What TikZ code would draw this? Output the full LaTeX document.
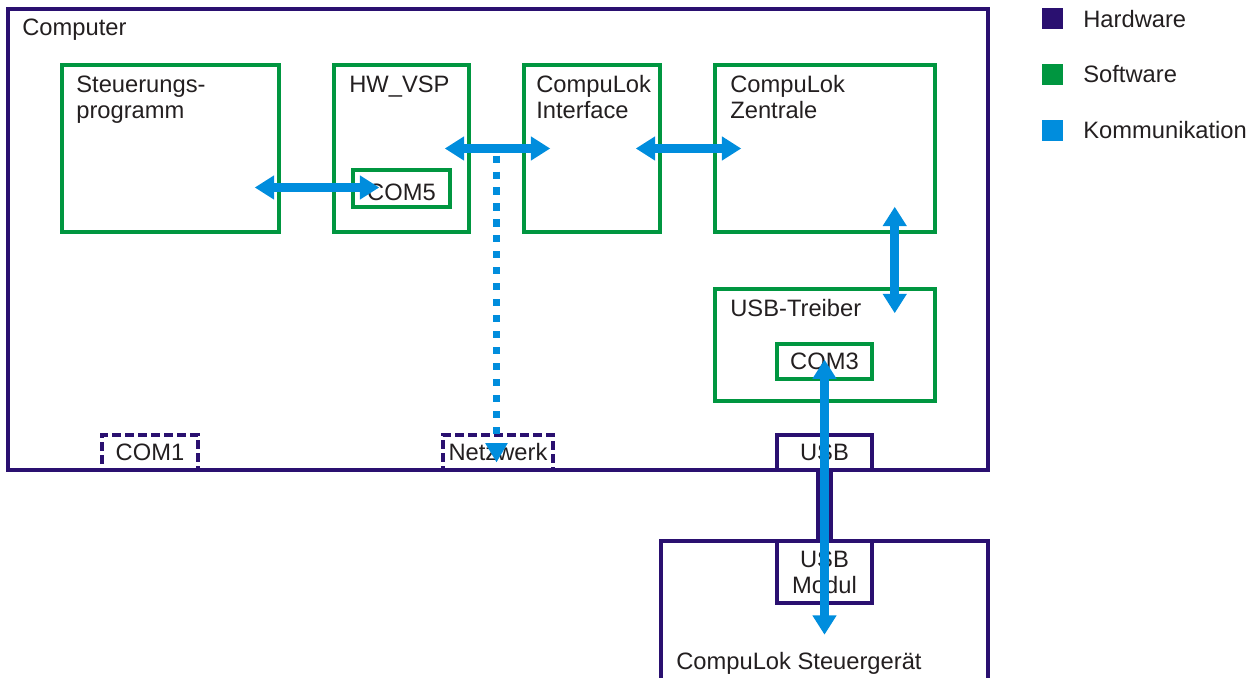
\documentclass[tikz,border=0pt]{standalone}
\usepackage{fontspec}
\setmainfont{Liberation Sans}
\usetikzlibrary{arrows.meta,calc}

\definecolor{hwnavy}{RGB}{42,16,112}
\definecolor{swgreen}{RGB}{0,150,64}
\definecolor{commblue}{RGB}{0,141,221}
\definecolor{textgray}{RGB}{35,31,32}

\tikzset{
  labelfont/.style={text=textgray, font=\fontsize{13.5}{14.8}\selectfont},
  txt/.style={labelfont, inner sep=0pt, anchor=base west},
  hwbox/.style={labelfont, draw=hwnavy, line width=2.3pt, inner sep=0pt, align=center},
  swbox/.style={labelfont, draw=swgreen, line width=2pt, inner sep=0pt},
  portbox/.style={hwbox, line width=2.4pt, dash pattern=on 5pt off 2.4pt},
  comm/.style={draw=commblue, line width=5pt, >={Triangle[length=11pt,width=13pt]}, <->},
  commdots/.style={draw=commblue, line width=4.5pt, dash pattern=on 4pt off 5.1pt,
    dash phase=5.1pt, >={Triangle[length=11pt,width=12pt]}, ->},
  legendbox/.style={minimum size=0.42cm, inner sep=0pt}
}

\begin{document}
\begin{tikzpicture}[x=0.02cm, y=-0.02cm]
    \useasboundingbox (0,0) rectangle (1259,678);

    % computer and its parts
    \node [hwbox, minimum width=19.6cm, minimum height=9.22cm] (computer) at (498,239.5) {};
    \node [txt] at (22,36) {Computer};

    \node [swbox, minimum width=4.34cm, minimum height=3.34cm] (steuer) at (170.5,148.5) {};
    \node [txt] at (76,93) {Steuerungs-};
    \node [txt] at (76,119) {programm};

    \node [swbox, minimum width=2.7cm, minimum height=3.34cm] (hwvsp) at (401.5,148.5) {};
    \node [txt] at (349,93) {HW\_VSP};
    \node [swbox, minimum width=1.94cm, minimum height=0.74cm] (com5) at (401.5,188.5) {};
    \node [labelfont, inner sep=0pt, anchor=base] at (com5.center |- 0,201) {COM5};

    \node [swbox, minimum width=2.72cm, minimum height=3.34cm] (iface) at (592,148.5) {};
    \node [txt] at (536,93) {CompuLok};
    \node [txt] at (536,119) {Interface};

    \node [swbox, minimum width=4.4cm, minimum height=3.34cm] (zentrale) at (825,148.5) {};
    \node [txt] at (730,93) {CompuLok};
    \node [txt] at (730,119) {Zentrale};

    \node [swbox, minimum width=4.4cm, minimum height=2.24cm] (treiber) at (825,345) {};
    \node [txt] at (730,317) {USB-Treiber};
    \node [swbox, minimum width=1.9cm, minimum height=0.7cm] (com3) at (824.5,361.5) {COM3};

    % ports
    \node [portbox, minimum width=1.92cm, minimum height=0.7cm] (com1) at (150,452.5) {COM1};
    \node [portbox, minimum width=2.2cm, minimum height=0.7cm] (netz) at (498,452.5) {Netzwerk};
    \node [hwbox, line width=2pt, minimum width=1.9cm, minimum height=0.7cm] (usb) at (824.5,452.5) {USB};

    % Steuergeraet
    \draw [draw=hwnavy, line width=2.3pt] (661,690) -- (661,541) -- (988,541) -- (988,690);
    \node [txt] at (676,670) {CompuLok Steuergerät};
    \node [hwbox, line width=2pt, minimum width=1.9cm, minimum height=1.24cm] (modul) at (824.5,572) {USB\\Modul};
    \draw [draw=hwnavy, line width=10pt] (usb.south) -- (modul.north);

    % Kommunikation
    \coordinate (tap) at ($(hwvsp.east)!0.5!(iface.west)$);
    \draw [commdots] (tap) -- ($(tap |- netz.center)+(0,10)$);
    \draw [comm] ($(steuer.east |- com5.west)+(-26,-1)$) -- ($(com5.west)+(28,-1)$);
    \draw [comm] ($(hwvsp.east)+(-26,0)$) -- ($(iface.west)+(28,0)$);
    \draw [comm] ($(iface.east)+(-26,0)$) -- ($(zentrale.west)+(28,0)$);
    \draw [comm] ($(zentrale.south east)+(-42,-27)$) -- ($(treiber.north east)+(-42,26)$);
    \draw [comm] ($(com3.center)+(0,-2)$) -- ($(modul.south)+(0,30)$);

    % legend
    \node [legendbox, fill=hwnavy] (leghw) at (1052.5,18.5) {};
    \node [txt] at (1083,28) {Hardware};
    \node [legendbox, fill=swgreen] (legsw) at (1052.5,75) {};
    \node [txt] at (1083,83) {Software};
    \node [legendbox, fill=commblue] (legcomm) at (1052.5,131) {};
    \node [txt] at (1083,139) {Kommunikation};

\end{tikzpicture}
\end{document}
